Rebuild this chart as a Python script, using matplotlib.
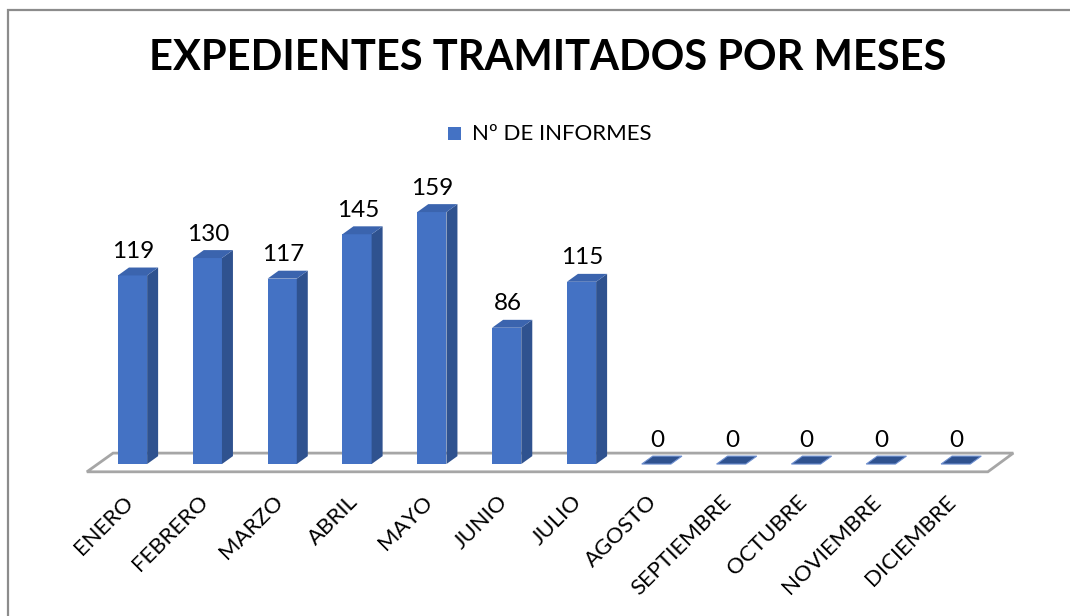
import matplotlib
matplotlib.use("Agg")
import matplotlib.pyplot as plt
from matplotlib.patches import Polygon, Rectangle

# ---- data ----
months = ["ENERO", "FEBRERO", "MARZO", "ABRIL", "MAYO", "JUNIO", "JULIO",
          "AGOSTO", "SEPTIEMBRE", "OCTUBRE", "NOVIEMBRE", "DICIEMBRE"]
informes = [119, 130, 117, 145, 159, 86, 115, 0, 0, 0, 0, 0]
title = "EXPEDIENTES TRAMITADOS POR MESES"
series_name = "Nº DE INFORMES"

FONT = ["Lato", "DejaVu Sans"]
plt.rcParams["font.family"] = FONT

W, H = 1070, 616
fig = plt.figure(figsize=(W / 100, H / 100), dpi=100)

# outer chart border
fig.patches.append(Rectangle((7.5 / W, -0.1), 1.2, 1.1 - 9.5 / H,
                             transform=fig.transFigure, fill=False,
                             edgecolor="#8C8C8C", linewidth=1.6))

ax = fig.add_axes([0.0749, 0.2081, 0.8812, 0.5274])
ax.set_xlim(-0.7, 11.9)
ax.set_ylim(-15, 190)
ax.axis("off")

front_c = "#4472C4"
side_c = "#2F528F"
top_c = "#3B64AE"

bw = 0.39       # front face width (category units)
ddx = 0.147     # depth offset x
ddy = 5.0       # depth offset y (value units)

# floor
floor = Polygon([(-0.61, -4.9), (11.43, -4.9), (11.77, 6.9), (-0.26, 6.9)],
                closed=True, facecolor="white", edgecolor="#A6A6A6",
                linewidth=2.0, zorder=1)
ax.add_patch(floor)

x = list(range(len(months)))
for i, v in zip(x, informes):
    l, r = i - bw / 2, i + bw / 2
    if v > 0:
        ax.bar(i, v, width=bw, color=front_c, zorder=3, linewidth=0)
        ax.add_patch(Polygon([(r, 0), (r + ddx, ddy), (r + ddx, v + ddy), (r, v)],
                             closed=True, facecolor=side_c, edgecolor="none", zorder=3))
        ax.add_patch(Polygon([(l, v), (r, v), (r + ddx, v + ddy), (l + ddx, v + ddy)],
                             closed=True, facecolor=top_c, edgecolor="none", zorder=3))
    else:
        ax.add_patch(Polygon([(l, 0), (r, 0), (r + ddx, ddy), (l + ddx, ddy)],
                             closed=True, facecolor=side_c, edgecolor="#6E8FCF",
                             linewidth=0.8, zorder=3))
    ax.text(i + 0.01, v + 11, str(v), ha="center", va="baseline",
            fontsize=17.5, color="black", zorder=4)

for lab, xi in zip(months, x):
    ax.annotate(lab, xy=(xi - 0.13, -15), xytext=(0, -3), textcoords="offset points",
                rotation=45, ha="right", va="top", rotation_mode="anchor",
                fontsize=16, color="black", annotation_clip=False)

# title
fig.text(548 / W, 1 - 58 / H, title, ha="center", va="center",
         fontsize=30, fontweight="bold", color="black")

# legend (manual)
fig.patches.append(Rectangle((448 / W, 1 - 140 / H), 13 / W, 13 / H,
                             transform=fig.transFigure, facecolor=front_c,
                             edgecolor="none"))
fig.text(472 / W, 1 - 133.5 / H, series_name, ha="left", va="center",
         fontsize=16, color="black")

fig.savefig("out.png", dpi=100)
